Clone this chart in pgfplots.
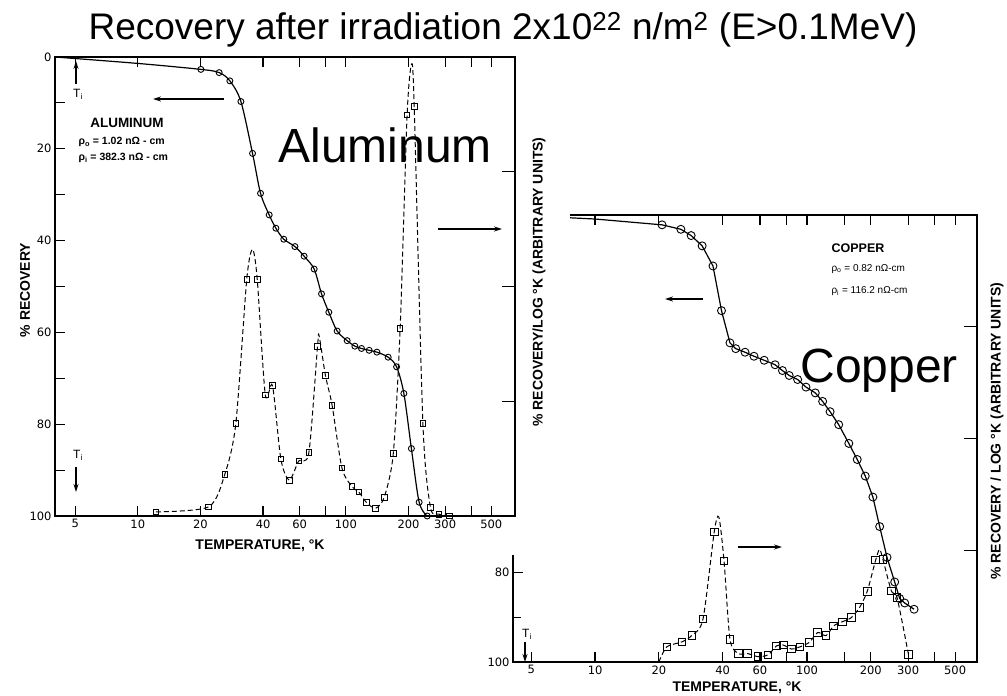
\documentclass[border=0pt]{standalone}
\usepackage{fontspec}
\setmainfont{Liberation Sans}
\setsansfont{Liberation Sans}
\newfontfamily\tickfont{DejaVu Sans}
\usepackage{pgfplots}
\usepackage{pgfplotstable}
\pgfplotsset{compat=1.18}
\usetikzlibrary{arrows.meta}

% Aluminum: isochronal recovery (%) and its derivative (arbitrary units)
\pgfplotstableread{
T rec
4 0
10 1.4
20.1 2.7
24.6 3.4
27.7 5.2
31.3 9.7
35.6 21.0
38.9 29.7
42.8 34.4
46.1 37.3
50.3 39.7
56.9 41.3
63.0 43.4
70.4 46.2
76.4 51.6
82.8 55.6
90.8 59.7
101.4 61.8
110.5 63.0
118.9 63.5
129.4 63.9
141 64.3
159.7 65.4
175.3 67.5
190 73.3
206.5 85.3
225 97.0
246 100
}\alrec

\pgfplotstableread{
T rate
12.2 0.9
21.9 2.0
26.2 9.1
29.6 20.2
33.4 51.6
35.6 58.1
37.5 51.6
41.0 26.4
44.4 28.4
48.7 12.4
53.5 7.8
59.4 12.0
66.4 13.8
73.1 37.0
74.4 39.2
79.8 30.6
85.9 24.1
95.7 10.5
107 6.4
115.5 5.2
125.8 2.9
139 1.7
152.9 4.1
169 13.6
182.3 40.8
197 87.4
207 98.5
213 89.2
234.5 20.2
255 1.9
280 0.4
314 0
}\alrate

% Copper: isochronal recovery (%) and its derivative (arbitrary units)
\pgfplotstableread{
T rec
4.1 0
10 0.9
20.7 2.2
25.4 3.2
28.4 4.6
32.0 6.9
36.0 11.4
39.5 21.4
43.3 28.6
46.1 29.9
51.0 30.7
56.2 31.6
62.8 32.5
70.7 33.5
76.6 34.8
82.4 35.9
90.3 36.8
98.9 38.5
109.4 39.8
118.5 41.7
128.5 44.0
141.1 46.9
157.5 51.1
172.6 54.7
188.3 58.4
204.6 63.1
220.2 69.7
238.5 76.6
259.2 82.1
273.7 85.8
289 86.8
320 88.2
}\curec

\pgfplotstableread{
T rate
20 0
21.8 3.4
25.7 4.5
28.7 6.0
32.3 9.6
36.5 29.1
38.4 32.4
40.6 22.6
43.3 5.1
47.4 1.9
52.3 1.9
58.7 1.2
65.5 1.6
71.8 3.6
77.2 3.8
84.6 2.9
92.7 3.4
102.6 4.4
112.3 6.6
123 5.9
133.7 8.1
146.5 9.0
161.6 9.9
177 12.2
192.4 15.8
210.8 22.8
220 25.2
228 23.0
250 15.9
266 14.4
301 1.7
}\curate

\pgfplotsset{
  scanframe/.style={
    scale only axis,
    axis line style={line width=1.5pt},
    tick style={line width=1.2pt, black},
    tick align=inside,
    ticklabel style={font=\tickfont\fontsize{11.5}{11.5}\selectfont},
  },
  reccurve/.style={black, line width=1.2pt, mark=o,
    mark options={solid, fill=white, line width=0.9pt}},
  ratecurve/.style={black, line width=1.0pt, dash pattern=on 5pt off 3pt,
    mark=square, mark options={solid, fill=white, line width=0.9pt}},
}

\newcommand{\lbl}{\fontsize{14}{14}\selectfont\bfseries}

\begin{document}
\begin{tikzpicture}
\path[use as bounding box] (0pt,0pt) rectangle (1007pt,696pt);

% ---------------- Copper ----------------
\begin{axis}[scanframe, xmode=log, anchor=south west, at={(513pt,34pt)},
  width=464pt, height=447pt,
  xmin=4.1, xmax=634, ymin=0, ymax=100, y dir=reverse,
  xtick={5,10,20,40,60,80,100,150,200,300,400,500},
  xticklabels={5,10,20,40,60,,100,,200,300,,500},
  xtick pos=both, xticklabel pos=bottom,
  ytick={0,20,40,60,80,100}, yticklabels={0,20,40,60,80,100},
  minor ytick={10,30,50,70,90},
  major tick length=10pt, minor tick length=8pt,
  ytick pos=left, yticklabel pos=left]
  \addplot[reccurve, mark size=4pt,
    mark indices={3,4,5,6,7,8,9,10,11,12,13,14,15,16,17,18,19,20,21,22,23,24,25,26,27,28,29,30,31,32}]
    table[x=T, y=rec] {\curec};
\end{axis}
\begin{axis}[scanframe, xmode=log, anchor=south west, at={(513pt,34pt)},
  width=464pt, height=447pt,
  xmin=4.1, xmax=634, ymin=0, ymax=100,
  hide x axis, ytick pos=right, yticklabel pos=right,
  ytick={25,50,75}, yticklabels={}, major tick length=13pt]
  \addplot[ratecurve, smooth, tension=0.45, mark size=3.8pt,
    mark indices={2,3,4,5,6,8,9,10,11,12,13,14,15,16,17,18,19,20,21,22,23,24,25,26,28,29,30,31}]
    table[x=T, y=rate] {\curate};
\end{axis}

% the aluminum sheet lies over the upper left of the copper one
\fill[white] (0pt,141pt) rectangle (570pt,696pt);

% ---------------- Aluminum ----------------
\begin{axis}[scanframe, xmode=log, anchor=south west, at={(55pt,180pt)},
  width=460pt, height=459pt,
  xmin=4, xmax=650, ymin=0, ymax=100, y dir=reverse,
  xtick={5,10,20,40,60,80,100,200,300,400,500},
  xticklabels={5,10,20,40,60,,100,200,300,,500},
  xtick pos=both, xticklabel pos=bottom,
  ytick={0,10,...,100}, yticklabels={0,,20,,40,,60,,80,,100},
  major tick length=10pt,
  ytick pos=left, yticklabel pos=left]
  \addplot[reccurve, smooth, tension=0.5, mark size=3pt,
    mark indices={3,4,5,6,7,8,9,10,11,12,13,14,15,16,17,18,19,20,21,22,23,24,25,26,27,28}]
    table[x=T, y=rec] {\alrec};
\end{axis}
\begin{axis}[scanframe, xmode=log, anchor=south west, at={(55pt,180pt)},
  width=460pt, height=459pt,
  xmin=4, xmax=650, ymin=0, ymax=100,
  hide x axis, ytick pos=right, yticklabel pos=right,
  ytick={25,50,75}, yticklabels={}, major tick length=13pt]
  \addplot[ratecurve, smooth, tension=0.45, mark size=2.8pt,
    mark indices={1,2,3,4,5,7,8,9,10,11,12,13,14,16,17,18,19,20,21,22,23,24,25,26,28,29,30,31,32}]
    table[x=T, y=rate] {\alrate};
\end{axis}

% axis titles
\node[font=\lbl] at (260pt,150pt) {TEMPERATURE, °K};
\node[font=\lbl] at (737pt,8pt) {TEMPERATURE, °K};
\node[font=\lbl, rotate=90] at (25pt,406pt) {\% RECOVERY};
\node[font=\lbl, rotate=90] at (539pt,414pt) {\% RECOVERY/LOG °K (ARBITRARY UNITS)};
\node[font=\lbl, rotate=90] at (997pt,265pt) {\% RECOVERY / LOG °K (ARBITRARY UNITS)};

% panel annotations
\node[font=\fontsize{13.5}{13.5}\selectfont\bfseries] at (127pt,573pt) {ALUMINUM};
\node[anchor=west, font=\fontsize{10.5}{10.5}\selectfont\bfseries] at (75pt,554pt) {ρ\textsubscript{o} = 1.02 nΩ - cm};
\node[anchor=west, font=\fontsize{10.5}{10.5}\selectfont\bfseries] at (75pt,538pt) {ρ\textsubscript{i} = 382.3 nΩ - cm};
\node[font=\fontsize{12.5}{12.5}\selectfont\bfseries] at (858pt,448pt) {COPPER};
\node[anchor=west, font=\fontsize{10}{10}\selectfont] at (828pt,427pt) {ρ\textsubscript{o} = 0.82 nΩ-cm};
\node[anchor=west, font=\fontsize{10}{10}\selectfont] at (828pt,405pt) {ρ\textsubscript{i} = 116.2 nΩ-cm};

\begin{scope}[line width=1.1pt, -{Stealth[length=8pt, width=5pt]}]
  \draw (76pt,612pt) -- (76pt,635pt);
  \draw (76pt,229pt) -- (76pt,204pt);
  \draw (525pt,54pt) -- (525pt,34pt);
  \draw (224pt,597pt) -- (153pt,597pt);
  \draw (438pt,467pt) -- (502pt,467pt);
  \draw (703pt,397pt) -- (665pt,397pt);
  \draw (738pt,149pt) -- (782pt,149pt);
\end{scope}
\node[font=\fontsize{12}{12}\selectfont] at (78pt,602pt) {T\textsubscript{i}};
\node[font=\fontsize{12}{12}\selectfont] at (78pt,241pt) {T\textsubscript{i}};
\node[font=\fontsize{12}{12}\selectfont] at (527pt,62pt) {T\textsubscript{i}};

% overlaid labels and heading
\node[anchor=base west, font=\fontsize{48}{48}\selectfont] at (275pt,533pt) {Aluminum};
\node[anchor=base west, font=\fontsize{48}{48}\selectfont] at (797pt,313pt) {Copper};
\node[anchor=base, font=\fontsize{37}{37}\selectfont] at (503pt,656pt)
  {Recovery after irradiation 2x10\textsuperscript{22} n/m\textsuperscript{2} (E>0.1MeV)};
\end{tikzpicture}
\end{document}
